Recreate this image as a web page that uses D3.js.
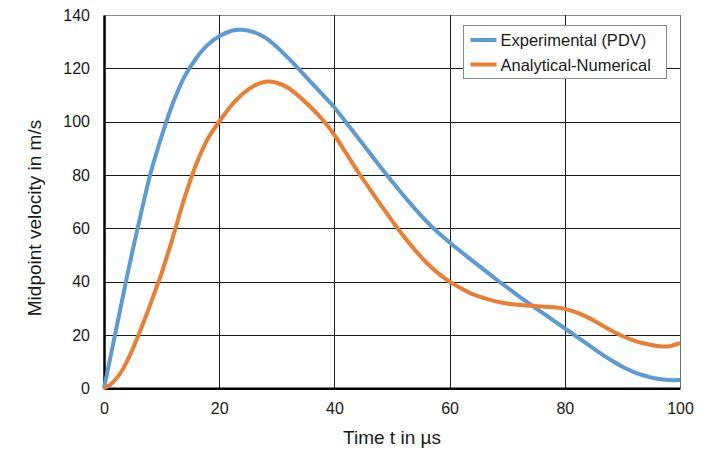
<!DOCTYPE html>
<html>
<head>
<meta charset="utf-8">
<script src="https://cdn.jsdelivr.net/npm/d3@7"></script>
<style>
body{margin:0;background:#fff;}
text{font-family:"Liberation Sans",Arial,sans-serif;fill:#1a1a1a;}
</style>
</head>
<body>
<div id="chart"></div>
<script>
// time in µs
var time = [0,1,2,3,4,5,6,7,8,9,10,12,14,16,18,20,22,24,26,28,30,32,34,36,38,40,42,44,46,48,50,
            52,54,56,58,60,62,64,66,68,70,72,74,76,78,80,82,84,86,88,90,92,94,96,98,100];
// midpoint velocity in m/s
var experimental = [0,10.5,21,31.5,42,52,61.5,71,80,87.5,94.5,107.2,117,123.8,128.8,132,134,134.5,133.6,131.5,128,
            123.8,119.3,114.6,110,105.3,99.8,94.2,88.6,83,77.6,72.3,67.3,62.6,58.4,54.7,51.2,47.8,44.4,41,37.8,
            34.6,31.5,28.5,25.5,22.5,19.5,16.4,13.4,10.6,8.1,6.1,4.6,3.6,3.1,3.1];
var analytical = [0,1.2,3.3,6.2,10.2,14.8,20,25.5,31.2,37.2,43.2,57,71.5,84,93.5,100,105.8,110.3,113.4,115,114.6,
            112.6,109.2,105.2,100.6,95,88.3,81.5,75.2,69,62.9,57.1,51.8,47.1,43.2,40,37.5,35.3,33.8,32.6,31.8,
            31.3,31,30.7,30.4,29.8,28.5,26.6,24.2,21.8,19.6,17.9,16.7,15.9,15.7,17];
var seriesNames = ["Experimental (PDV)", "Analytical-Numerical"];
var seriesColors = ["#5B9BD5", "#ED7D31"];
var xTicks = [0,20,40,60,80,100];
var yTicks = [0,20,40,60,80,100,120,140];

var svg = d3.select("#chart").append("svg").attr("width",708).attr("height",452);

var x = d3.scaleLinear().domain([0,100]).range([104,680]);
var y = d3.scaleLinear().domain([0,140]).range([388.3,15]);

// gridlines
svg.append("g").selectAll("line.h").data(yTicks.slice(1)).enter().append("line")
    .attr("x1",x(0)).attr("x2",x(100))
    .attr("y1",d=>Math.round(y(d))+0.5).attr("y2",d=>Math.round(y(d))+0.5)
    .attr("stroke",d=>d==140?"#8c8c8c":"#1a1a1a").attr("stroke-width",1);
svg.append("g").selectAll("line.v").data(xTicks.slice(1)).enter().append("line")
    .attr("y1",y(0)).attr("y2",y(140))
    .attr("x1",d=>Math.round(x(d))+0.5).attr("x2",d=>Math.round(x(d))+0.5)
    .attr("stroke",d=>d==100?"#6e6e6e":"#1a1a1a").attr("stroke-width",1);

// axes
var yAxis = svg.append("g").attr("transform","translate("+x(0)+",0)")
    .call(d3.axisLeft(y).tickValues(yTicks).tickSize(0).tickPadding(14));
var xAxis = svg.append("g").attr("transform","translate(0,"+y(0)+")")
    .call(d3.axisBottom(x).tickValues(xTicks).tickSize(0).tickPadding(14));
[yAxis,xAxis].forEach(function(a){
  a.select(".domain").attr("stroke","#000").attr("stroke-width",2.5);
  a.selectAll("text").attr("font-size",16).attr("font-family","Liberation Sans, Arial, sans-serif").attr("fill","#1a1a1a");
});

// lines
var line = d3.line().x((d,i)=>x(time[i])).y(d=>y(d)).curve(d3.curveCatmullRom.alpha(0.5));
[experimental, analytical].forEach(function(s,k){
  svg.append("path").datum(s).attr("d",line)
     .attr("fill","none").attr("stroke",seriesColors[k]).attr("stroke-width",4)
     .attr("stroke-linejoin","round");
});

// axis titles
svg.append("text").attr("x",392).attr("y",444).attr("text-anchor","middle")
   .attr("font-size",19).text("Time t in µs");
svg.append("text").attr("transform","translate(41,218) rotate(-90)").attr("text-anchor","middle")
   .attr("font-size",19).text("Midpoint velocity in m/s");

// legend
var lg = svg.append("g").attr("transform","translate(463.5,25.5)");
lg.append("rect").attr("width",203).attr("height",53).attr("fill","#fff").attr("stroke","#8c8c8c");
seriesNames.forEach(function(n,i){
  var row = lg.append("g").attr("transform","translate(0,"+(14.5+i*24.5)+")");
  row.append("line").attr("x1",7).attr("x2",33).attr("stroke",seriesColors[i]).attr("stroke-width",4);
  row.append("text").attr("x",37).attr("y",6).attr("font-size",16.5).text(n);
});
</script>
</body>
</html>
